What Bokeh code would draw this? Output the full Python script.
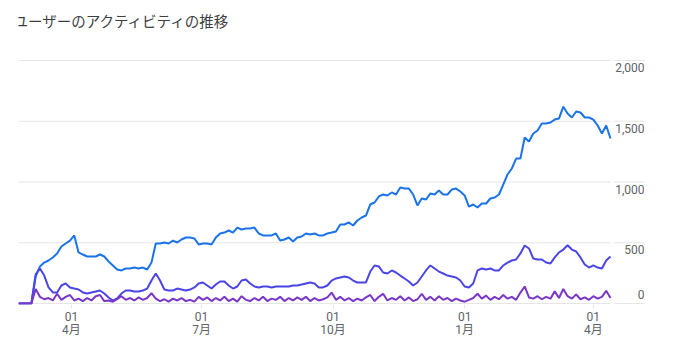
import pandas as pd
from bokeh.plotting import figure
from bokeh.models import Range1d, FixedTicker, ColumnDataSource
from bokeh.core.properties import value
from bokeh.embed import file_html
from bokeh.resources import INLINE

title_text = "ユーザーのアクティビティの推移"
start_date = "2020-02-24"
n_points = 139
step = "3D"

users_30d = [0, 0, 0, 0, 222, 305, 337, 354, 379, 412, 469, 494, 518, 560, 420,
             403, 387, 387, 387, 403, 387, 346, 313, 280, 272, 288, 288, 296, 288, 296,
             280, 337, 494, 494, 502, 494, 518, 502, 527, 543, 543, 535, 486, 494, 494,
             486, 543, 576, 584, 601, 584, 625, 609, 617, 617, 625, 576, 560, 560, 560,
             576, 518, 527, 543, 510, 543, 551, 576, 568, 576, 560, 560, 576, 584, 593,
             650, 650, 667, 642, 683, 708, 724, 815, 831, 881, 897, 889, 914, 897, 955,
             946, 946, 897, 807, 864, 856, 905, 897, 930, 897, 897, 938, 946, 922, 889,
             798, 815, 790, 823, 823, 864, 872, 897, 979, 1062, 1111, 1193, 1193, 1366, 1333,
             1399, 1424, 1481, 1481, 1490, 1514, 1523, 1620, 1564, 1531, 1580, 1572, 1531, 1531, 1514,
             1465, 1399, 1465, 1358]

users_7d = [0, 0, 0, 0, 240, 288, 230, 132, 91, 91, 148, 165, 132, 123, 115,
            91, 82, 91, 99, 107, 82, 49, 25, 41, 82, 107, 107, 99, 99, 107,
            123, 189, 247, 189, 115, 107, 107, 123, 115, 107, 115, 132, 165, 173, 148,
            123, 156, 181, 181, 148, 123, 140, 189, 198, 165, 140, 132, 140, 140, 132,
            140, 140, 140, 140, 148, 148, 156, 165, 173, 165, 132, 132, 148, 189, 206,
            214, 222, 214, 189, 173, 173, 173, 263, 313, 305, 255, 247, 272, 255, 230,
            206, 181, 148, 173, 222, 272, 313, 288, 263, 247, 230, 222, 214, 189, 140,
            132, 165, 272, 288, 280, 288, 272, 272, 313, 337, 354, 362, 412, 477, 453,
            370, 362, 362, 337, 329, 379, 420, 444, 480, 444, 428, 379, 321, 296, 313,
            296, 288, 354, 387]

users_1d = [0, 0, 0, 0, 120, 55, 35, 45, 25, 80, 30, 55, 70, 25, 40,
            20, 45, 25, 60, 70, 20, 25, 15, 35, 60, 30, 45, 25, 50, 30,
            45, 85, 40, 20, 35, 15, 40, 25, 45, 20, 30, 15, 55, 30, 50,
            20, 45, 25, 55, 20, 40, 15, 60, 30, 20, 45, 25, 55, 20, 40,
            30, 55, 20, 45, 25, 50, 30, 55, 20, 45, 25, 35, 50, 90, 30,
            55, 25, 45, 20, 40, 25, 50, 70, 20, 55, 80, 25, 45, 30, 60,
            25, 50, 20, 35, 80, 30, 55, 25, 60, 30, 45, 20, 40, 25, 15,
            30, 45, 80, 40, 65, 30, 55, 35, 70, 40, 55, 30, 90, 140, 50,
            40, 60, 35, 55, 40, 100, 45, 120, 60, 40, 75, 35, 50, 30, 60,
            40, 55, 105, 45]

x_tick_dates = ["2020-04-01", "2020-07-01", "2020-10-01", "2021-01-01", "2021-04-01"]
x_tick_labels = ["01\n4月", "01\n7月", "01\n10月", "01\n1月", "01\n4月"]
y_tick_values = [0, 500, 1000, 1500, 2000]
y_tick_labels = ["0", "500", "1,000", "1,500", "2,000"]

series_colors = ["#1a73e8", "#4b45e8", "#7a36c8"]
grid_color = "#e6e6e6"
label_color = "#5f6368"
title_color = "#3c4043"

# layout (pixels)
W, H = 673, 352
frame_left, data_right, frame_right = 18, 610, 644
top_px, zero_px, bottom_px = 60, 303, 304     # 2000 gridline, 0 gridline, frame bottom
label_gap = 4

dates = pd.date_range(start_date, periods=n_points, freq=step)
span = dates[-1] - dates[0]
tpp = span / (data_right - frame_left)          # time per pixel
x_end = dates[-1] + tpp * (frame_right - data_right)
seg2_start = dates[-1] + tpp * label_gap

upp = (y_tick_values[-1] - y_tick_values[0]) / (zero_px - top_px)   # units per pixel
y_lo = y_tick_values[0] - upp * (bottom_px - zero_px)
y_hi = y_lo + upp * bottom_px                   # frame reaches the top of the page

p = figure(width=W, height=H, x_axis_type="datetime", y_axis_location=None,
           title_location=None, output_backend="svg", toolbar_location=None,
           x_range=Range1d(dates[0], x_end), y_range=Range1d(y_lo, y_hi),
           min_border_left=frame_left, min_border_right=W - frame_right,
           min_border_top=0, min_border_bottom=H - bottom_px)
p.outline_line_color = None
p.xgrid.visible = False
p.ygrid.visible = False

# horizontal gridlines: across the data, and a short piece under each value label
nt = len(y_tick_values)
grid_src = ColumnDataSource(dict(x0=[dates[0]] * nt, x1=[dates[-1]] * nt,
                                 x2=[seg2_start] * nt, x3=[x_end] * nt, y=y_tick_values))
p.segment(x0="x0", x1="x1", y0="y", y1="y", source=grid_src, line_color=grid_color, line_width=1)
p.segment(x0="x2", x1="x3", y0="y", y1="y", source=grid_src, line_color=grid_color, line_width=1)

src = ColumnDataSource(dict(x=dates, a=users_30d, b=users_7d, c=users_1d))
for col, color in zip(["a", "b", "c"], series_colors):
    p.line("x", col, source=src, line_color=color, line_width=2)

# value labels at the right
p.text(x=[x_end] * (nt - 1), y=y_tick_values[1:], text=y_tick_labels[1:],
       text_align="right", text_baseline="middle", y_offset=7,
       text_font=value("Roboto"), text_font_size="12px", text_color=label_color)
p.text(x=[x_end], y=y_tick_values[:1], text=y_tick_labels[:1],
       text_align="right", text_baseline="middle", y_offset=-9,
       text_font=value("Roboto"), text_font_size="12px", text_color=label_color)

# chart title (top-left)
p.text(x=[dates[0]], y=[y_hi], text=[title_text], x_offset=-5, y_offset=20,
       text_align="left", text_baseline="middle",
       text_font=value("Noto Sans CJK JP"), text_font_size="14.5px", text_color=title_color)

tick_ms = [pd.Timestamp(d).value // 10**6 for d in x_tick_dates]
xa = p.xaxis[0]
xa.ticker = FixedTicker(ticks=tick_ms)
xa.major_label_overrides = {float(t): lab for t, lab in zip(tick_ms, x_tick_labels)}
xa.axis_line_color = None
xa.major_tick_line_color = grid_color
xa.major_tick_in = 0
xa.major_tick_out = 4
xa.minor_tick_line_color = None
xa.major_label_standoff = 1
xa.major_label_text_font = "Roboto, Noto Sans CJK JP"
xa.major_label_text_font_size = "12px"
xa.major_label_text_line_height = 0.95
xa.major_label_text_color = label_color

open("out.html", "w").write(file_html(p, INLINE))
